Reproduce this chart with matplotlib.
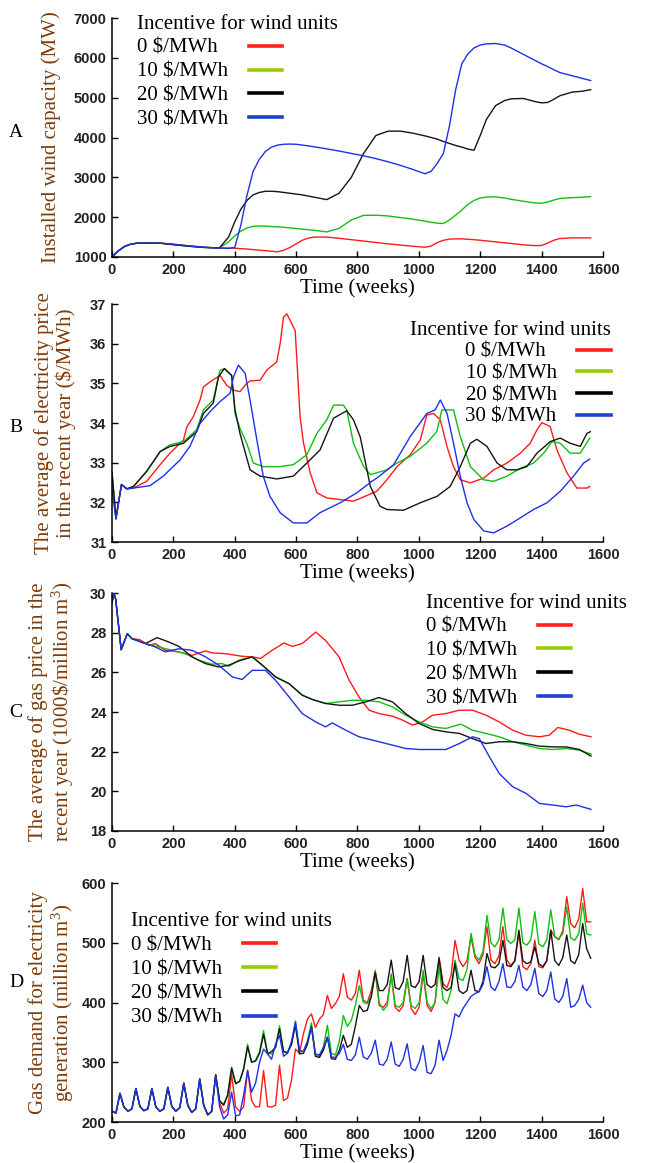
import numpy as np
import matplotlib
matplotlib.use("Agg")
import matplotlib.pyplot as plt
from matplotlib.lines import Line2D

plt.rcParams['font.family'] = ['Liberation Serif', 'DejaVu Serif']
plt.rcParams['mathtext.fontset'] = 'custom'
plt.rcParams['mathtext.rm'] = 'Liberation Serif'
plt.rcParams['mathtext.it'] = 'Liberation Serif:italic'

# figure space (U+2007) keeps the one-digit label as wide as the two-digit ones
labels = ["0 $/MWh\u2007", "10 $/MWh", "20 $/MWh", "30 $/MWh"]
legend_title = "Incentive for wind units"
line_colors = ['#ff1a1a', '#10c010', '#151515', '#1f30e6']
legend_colors = ['#ff2020', '#9acd00', '#000000', '#2040d0']

# ---------------- Panel A: installed wind capacity ----------------
a_weeks = [0, 20, 40, 60, 80, 120, 160, 200, 250, 300, 350, 380, 400, 420, 440, 460, 480, 500,
           520, 540, 560, 580, 600, 620, 640, 660, 700, 740, 780, 820, 860, 900, 940, 980, 1020,
           1040, 1060, 1080, 1100, 1120, 1140, 1160, 1180, 1200, 1220, 1250, 1280, 1300, 1340,
           1380, 1400, 1420, 1440, 1460, 1500, 1530, 1560]
a_red = [1000, 1150, 1260, 1320, 1345, 1350, 1345, 1320, 1280, 1245, 1225, 1225, 1220, 1210, 1200,
         1185, 1170, 1160, 1145, 1130, 1170, 1240, 1330, 1420, 1475, 1500, 1500, 1470, 1435, 1400,
         1365, 1330, 1300, 1270, 1245, 1275, 1360, 1420, 1450, 1455, 1455, 1445, 1435, 1420, 1405,
         1380, 1355, 1340, 1305, 1285, 1290, 1350, 1420, 1465, 1480, 1480, 1480]
a_green = [1000, 1150, 1260, 1320, 1345, 1350, 1345, 1310, 1270, 1240, 1225, 1380, 1530, 1650, 1730,
           1770, 1780, 1775, 1765, 1755, 1745, 1730, 1715, 1700, 1685, 1670, 1630, 1720, 1930, 2045,
           2050, 2030, 1990, 1950, 1900, 1870, 1850, 1840, 1930, 2050, 2180, 2320, 2420, 2480, 2505,
           2510, 2480, 2450, 2400, 2355, 2350, 2380, 2430, 2470, 2490, 2500, 2515]
a_black = [1000, 1150, 1260, 1320, 1345, 1350, 1345, 1310, 1270, 1240, 1225, 1500, 1880, 2200, 2420,
           2560, 2620, 2650, 2650, 2640, 2620, 2600, 2580, 2560, 2530, 2500, 2440, 2600, 3000, 3600,
           4050, 4160, 4160, 4110, 4040, 4000, 3960, 3900, 3850, 3800, 3760, 3710, 3680, 4050, 4450,
           4800, 4930, 4970, 4980, 4900, 4870, 4880, 4960, 5050, 5140, 5160, 5200]
a_blue = [1000, 1150, 1260, 1320, 1345, 1350, 1345, 1320, 1280, 1245, 1225, 1215, 1240, 1800, 2550,
          3150, 3450, 3650, 3760, 3810, 3830, 3835, 3830, 3810, 3790, 3765, 3715, 3660, 3600, 3540,
          3470, 3390, 3300, 3200, 3090, 3150, 3350, 3600, 4300, 5200, 5850, 6100, 6250, 6320, 6350,
          6360, 6320, 6250, 6090, 5930, 5850, 5780, 5700, 5630, 5550, 5490, 5430]

# ---------------- Panel B: average electricity price ----------------
b_red_w = [0, 13, 31, 48, 70, 113, 157, 189, 233, 244, 265, 287, 298, 320, 352, 374, 396, 417, 439,
           450, 483, 504, 537, 548, 559, 570, 597, 602, 613, 624, 646, 668, 700, 744, 787, 809, 863,
           896, 929, 972, 1005, 1026, 1048, 1070, 1092, 1113, 1135, 1168, 1211, 1244, 1287, 1331,
           1363, 1385, 1401, 1428, 1450, 1483, 1515, 1548, 1557]
b_red = [32.75, 31.6, 32.45, 32.34, 32.36, 32.53, 32.95, 33.24, 33.57, 33.9, 34.16, 34.58, 34.91,
         35.04, 35.2, 34.95, 34.83, 34.79, 35.0, 35.06, 35.08, 35.33, 35.54, 36.0, 36.67, 36.75,
         36.33, 35.67, 34.16, 33.5, 32.74, 32.24, 32.11, 32.07, 32.03, 32.1, 32.28, 32.57, 32.9,
         33.2, 33.58, 34.2, 34.24, 34.08, 33.4, 32.9, 32.57, 32.49, 32.61, 32.82, 32.99, 33.24,
         33.49, 33.83, 34.01, 33.91, 33.32, 32.74, 32.36, 32.36, 32.4]
b_green_w = [0, 13, 31, 48, 70, 113, 157, 189, 233, 276, 298, 330, 352, 368, 390, 401, 417, 439, 461,
             493, 548, 591, 635, 668, 700, 722, 754, 765, 787, 820, 842, 896, 929, 972, 1026, 1059,
             1075, 1113, 1135, 1168, 1211, 1244, 1287, 1331, 1374, 1407, 1434, 1461, 1493, 1526, 1557]
b_green = [32.75, 31.6, 32.45, 32.34, 32.4, 32.78, 33.28, 33.45, 33.53, 33.83, 34.33, 34.58, 35.33,
           35.37, 35.2, 34.24, 33.87, 33.49, 32.99, 32.9, 32.9, 32.95, 33.2, 33.74, 34.08, 34.45,
           34.45, 34.33, 33.49, 32.9, 32.7, 32.82, 32.99, 33.16, 33.49, 33.79, 34.33, 34.33, 33.66,
           32.9, 32.57, 32.53, 32.66, 32.86, 32.99, 33.24, 33.53, 33.49, 33.24, 33.24, 33.62]
b_black_w = [0, 13, 31, 48, 70, 113, 157, 189, 233, 276, 298, 330, 347, 366, 390, 401, 417, 450, 483,
             537, 591, 635, 678, 722, 765, 787, 809, 842, 874, 896, 950, 1005, 1059, 1102, 1135,
             1168, 1189, 1222, 1255, 1287, 1320, 1352, 1385, 1428, 1461, 1493, 1526, 1548, 1559]
b_black = [32.75, 31.6, 32.45, 32.34, 32.4, 32.78, 33.28, 33.41, 33.49, 33.78, 34.24, 34.5, 35.16,
           35.37, 35.2, 34.33, 33.74, 32.82, 32.66, 32.59, 32.66, 32.99, 33.32, 34.12, 34.31, 34.08,
           33.65, 32.4, 31.9, 31.82, 31.8, 31.99, 32.15, 32.4, 32.9, 33.49, 33.59, 33.41, 32.99,
           32.82, 32.82, 32.9, 33.24, 33.53, 33.62, 33.49, 33.41, 33.74, 33.78]
b_blue_w = [0, 13, 31, 48, 70, 124, 167, 222, 254, 287, 320, 352, 385, 396, 412, 434, 450, 472, 493,
            515, 548, 591, 635, 678, 744, 798, 847, 863, 918, 972, 1026, 1053, 1070, 1092, 1113,
            1135, 1157, 1179, 1211, 1244, 1287, 1331, 1374, 1418, 1461, 1504, 1537, 1557]
b_blue = [32.32, 31.57, 32.45, 32.34, 32.36, 32.42, 32.66, 33.07, 33.41, 33.99, 34.29, 34.54, 34.75,
          35.16, 35.46, 35.25, 34.58, 33.58, 32.66, 32.15, 31.74, 31.48, 31.48, 31.74, 31.99, 32.24,
          32.53, 32.61, 32.95, 33.66, 34.24, 34.33, 34.58, 34.24, 33.49, 32.66, 31.99, 31.57, 31.28,
          31.23, 31.4, 31.61, 31.82, 31.99, 32.28, 32.66, 32.99, 33.09]

# ---------------- Panel C: average gas price ----------------
c_red_w = [0, 6, 12, 30, 50, 65, 90, 120, 141, 174, 218, 261, 305, 326, 370, 424, 457, 484, 522, 560,
           588, 620, 664, 696, 740, 773, 805, 838, 870, 914, 947, 979, 1012, 1045, 1088, 1132, 1175,
           1219, 1262, 1306, 1349, 1393, 1425, 1453, 1491, 1523, 1561]
c_red = [29.5, 30.0, 29.7, 27.14, 27.95, 27.7, 27.65, 27.36, 27.45, 27.11, 27.03, 26.86, 27.08, 26.98,
         26.94, 26.81, 26.78, 26.7, 27.11, 27.48, 27.31, 27.45, 28.03, 27.61, 26.78, 25.6, 24.76,
         24.09, 23.92, 23.79, 23.59, 23.34, 23.5, 23.84, 23.92, 24.09, 24.09, 23.84, 23.5, 23.08,
         22.83, 22.75, 22.83, 23.22, 23.08, 22.88, 22.75]
c_green_w = [0, 6, 12, 30, 50, 65, 109, 152, 196, 239, 283, 326, 359, 381, 413, 457, 490, 533, 577,
             620, 653, 696, 740, 783, 827, 870, 914, 957, 1001, 1045, 1088, 1137, 1175, 1219, 1262,
             1306, 1349, 1393, 1436, 1480, 1523, 1561]
c_green = [29.5, 30.0, 29.7, 27.14, 27.95, 27.7, 27.45, 27.28, 27.11, 26.94, 26.61, 26.41, 26.44,
           26.31, 26.61, 26.78, 26.36, 25.77, 25.43, 24.85, 24.63, 24.43, 24.51, 24.59, 24.59, 24.51,
           24.26, 23.84, 23.5, 23.25, 23.17, 23.39, 23.08, 22.92, 22.75, 22.5, 22.33, 22.16, 22.11,
           22.16, 22.08, 21.88]
c_black_w = [0, 6, 12, 30, 50, 65, 109, 147, 185, 218, 261, 305, 348, 381, 413, 457, 490, 533, 577,
             620, 653, 696, 740, 783, 827, 870, 914, 957, 1001, 1045, 1088, 1132, 1175, 1219, 1262,
             1306, 1349, 1393, 1436, 1480, 1523, 1561]
c_black = [29.5, 30.0, 29.7, 27.14, 27.95, 27.7, 27.45, 27.75, 27.53, 27.31, 26.78, 26.44, 26.27,
           26.36, 26.57, 26.78, 26.36, 25.77, 25.43, 24.85, 24.63, 24.43, 24.34, 24.34, 24.51, 24.73,
           24.51, 23.92, 23.42, 23.12, 23.0, 22.92, 22.66, 22.41, 22.5, 22.5, 22.41, 22.28, 22.24,
           22.24, 22.11, 21.78]
c_blue_w = [0, 6, 12, 30, 50, 65, 109, 141, 174, 218, 261, 305, 348, 392, 424, 457, 500, 533, 577,
            620, 664, 696, 718, 762, 805, 870, 914, 957, 1001, 1045, 1088, 1132, 1175, 1197, 1230,
            1262, 1306, 1349, 1393, 1436, 1480, 1513, 1561]
c_blue = [29.5, 30.0, 29.7, 27.14, 27.95, 27.7, 27.45, 27.28, 27.03, 27.19, 27.11, 26.78, 26.36,
          25.77, 25.64, 26.1, 26.1, 25.6, 24.76, 23.92, 23.5, 23.25, 23.45, 23.08, 22.75, 22.5,
          22.33, 22.16, 22.11, 22.11, 22.11, 22.41, 22.75, 22.66, 21.74, 20.9, 20.23, 19.9, 19.39,
          19.31, 19.22, 19.31, 19.09]

# ---------------- Panel D: gas demand (13-week samples) ----------------
d_weeks = np.arange(0, 1561, 13)
d_red = [218, 215,
         248, 225, 218, 222, 256, 226, 219, 222, 256, 225, 218, 222, 258, 226, 218, 224,
         265, 228, 216, 222, 272, 228, 212, 218, 279, 232, 215, 222, 280, 225, 218, 225,
         287, 236, 225, 226, 286, 226, 225, 228, 295, 236, 240, 270, 322, 315, 348, 372,
         381, 358, 372, 380, 412, 390, 398, 410, 448, 409, 404, 415, 454, 404, 400, 420,
         452, 395, 392, 400, 445, 392, 385, 395, 440, 390, 380, 392, 448, 395, 385, 400,
         476, 432, 425, 445, 504, 471, 460, 470, 510, 476, 465, 480, 527, 471, 465, 478,
         527, 471, 462, 470, 516, 460, 455, 465, 504, 460, 458, 470, 521, 510, 505, 520,
         577, 532, 525, 540, 591, 535, 535]
d_green = [218, 215,
           248, 225, 218, 222, 256, 226, 219, 222, 256, 225, 218, 222, 258, 226, 218, 224,
           265, 228, 216, 222, 272, 228, 212, 218, 279, 235, 230, 245, 292, 265, 268, 290,
           330, 300, 303, 318, 353, 315, 314, 325, 361, 318, 316, 330, 369, 318, 318, 335,
           366, 313, 310, 325, 362, 315, 312, 335, 378, 360, 370, 395, 428, 400, 398, 410,
           454, 400, 387, 395, 448, 395, 392, 400, 440, 395, 390, 400, 454, 400, 390, 400,
           460, 405, 398, 420, 471, 440, 437, 455, 516, 480, 471, 485, 546, 500, 493, 505,
           558, 505, 499, 505, 558, 500, 496, 505, 552, 498, 493, 505, 555, 510, 507, 515,
           560, 508, 504, 515, 566, 515, 513]
d_black = [218, 215,
           248, 225, 218, 222, 256, 226, 219, 222, 256, 225, 218, 222, 258, 226, 218, 224,
           265, 228, 216, 222, 272, 228, 212, 218, 279, 235, 228, 245, 290, 264, 268, 288,
           326, 300, 302, 315, 347, 314, 318, 325, 356, 318, 316, 330, 362, 314, 315, 330,
           360, 310, 308, 320, 342, 306, 305, 320, 345, 325, 330, 360, 395, 385, 387, 410,
           450, 420, 420, 430, 471, 425, 422, 435, 479, 428, 425, 435, 479, 430, 425, 430,
           474, 425, 420, 425, 465, 420, 415, 420, 454, 420, 418, 435, 482, 460, 458, 465,
           504, 462, 460, 470, 521, 470, 465, 468, 493, 465, 460, 470, 521, 470, 462, 475,
           513, 470, 465, 480, 532, 490, 474]
d_blue = [218, 215,
          248, 225, 218, 222, 256, 226, 219, 222, 256, 225, 218, 222, 258, 226, 218, 224,
          265, 228, 216, 222, 272, 228, 212, 218, 278, 225, 205, 212, 250, 210, 212, 245,
          286, 250, 265, 300, 322, 314, 305, 330, 345, 310, 315, 335, 367, 320, 318, 335,
          359, 314, 312, 325, 342, 309, 308, 315, 330, 305, 303, 312, 342, 309, 305, 315,
          337, 297, 295, 305, 334, 297, 293, 305, 331, 290, 286, 300, 328, 283, 281, 295,
          337, 303, 320, 345, 381, 376, 390, 400, 410, 415, 418, 430, 460, 426, 420, 435,
          465, 426, 425, 435, 462, 426, 420, 430, 457, 415, 410, 420, 451, 406, 400, 410,
          440, 392, 395, 405, 429, 400, 392]

# ---------------- layout ----------------
fig = plt.figure(figsize=(6.45, 11.63), dpi=100)
L, W = 0.1736, 0.7612
axA = fig.add_axes([L, 0.77902, W, 0.2055])
axB = fig.add_axes([L, 0.53396, W, 0.20464])
axC = fig.add_axes([L, 0.28547, W, 0.20464])
axD = fig.add_axes([L, 0.03525, W, 0.2055])

ylab_color = '#7d3d0c'
lw = 1.0

axA.plot(a_weeks, a_red, color=line_colors[0], lw=lw)
axA.plot(a_weeks, a_green, color=line_colors[1], lw=lw)
axA.plot(a_weeks, a_black, color=line_colors[2], lw=lw)
axA.plot(a_weeks, a_blue, color=line_colors[3], lw=lw)

axB.plot(b_red_w, b_red, color=line_colors[0], lw=lw)
axB.plot(b_green_w, b_green, color=line_colors[1], lw=lw)
axB.plot(b_black_w, b_black, color=line_colors[2], lw=lw)
axB.plot(b_blue_w, b_blue, color=line_colors[3], lw=lw)

axC.plot(c_red_w, c_red, color=line_colors[0], lw=lw)
axC.plot(c_green_w, c_green, color=line_colors[1], lw=lw)
axC.plot(c_black_w, c_black, color=line_colors[2], lw=lw)
axC.plot(c_blue_w, c_blue, color=line_colors[3], lw=lw)

axD.plot(d_weeks, d_red, color=line_colors[0], lw=lw)
axD.plot(d_weeks, d_green, color=line_colors[1], lw=lw)
axD.plot(d_weeks, d_black, color=line_colors[2], lw=lw)
axD.plot(d_weeks, d_blue, color=line_colors[3], lw=lw)

panels = [
    (axA, (1000, 7000), [1000, 2000, 3000, 4000, 5000, 6000, 7000], 'A',
     "Installed wind capacity (MW)", -0.104, 0.523),
    (axB, (31, 37), [31, 32, 33, 34, 35, 36, 37], 'B',
     "The average of electricity price\nin the recent year ($/MWh)", -0.073, 0.483),
    (axC, (18, 30), [18, 20, 22, 24, 26, 28, 30], 'C',
     "The average of gas price in the\nrecent year (1000\\$/million m$^3$)", -0.073, 0.496),
    (axD, (200, 600), [200, 300, 400, 500, 600], 'D',
     "Gas demand for electricity\ngeneration (million m$^3$)", -0.073, 0.582),
]

for ax, ylim, yt, letter, ylab, ylx, lety in panels:
    ax.set_xlim(0, 1600)
    ax.set_ylim(*ylim)
    ax.set_xticks([0, 200, 400, 600, 800, 1000, 1200, 1400, 1600])
    ax.set_yticks(yt)
    for s in ['top', 'right']:
        ax.spines[s].set_visible(False)
    for s in ['left', 'bottom']:
        ax.spines[s].set_linewidth(1.1)
    ax.tick_params(direction='in', length=4, width=1.0, pad=4)
    for t in ax.get_xticklabels() + ax.get_yticklabels():
        t.set_fontfamily('Liberation Sans')
        t.set_fontweight('bold')
        t.set_fontsize(10.5)
        t.set_color('#222222')
    ax.set_xlabel("Time (weeks)", fontsize=15)
    ax.xaxis.set_label_coords(0.5, -0.095)
    ax.set_ylabel(ylab, fontsize=15, color=ylab_color, linespacing=1.1)
    ax.yaxis.set_label_coords(ylx, 0.5)
    ax.text(-0.195, lety, letter, transform=ax.transAxes, fontsize=14,
            ha='center', va='center')

handles = [Line2D([], [], color=c, lw=2.6) for c in legend_colors]
leg_specs = [
    (axA, 'upper left', (0.051, 1.013), 'left', 0.21),
    (axB, 'upper right', (1.016, 0.928), 'right', 0.1),
    (axC, 'upper left', (0.6395, 0.995), 'left', 0.2),
    (axD, 'upper left', (0.0387, 0.878), 'left', 0.22),
]
for ax, loc, anchor, align, lsp in leg_specs:
    ax.legend(handles, labels, title=legend_title, loc=loc, bbox_to_anchor=anchor,
              frameon=False, markerfirst=False, alignment=align, fontsize=15,
              title_fontsize=15, handlelength=1.6, handletextpad=1.0, labelspacing=lsp,
              borderpad=0, borderaxespad=0)

fig.savefig("out.png", dpi=100)
